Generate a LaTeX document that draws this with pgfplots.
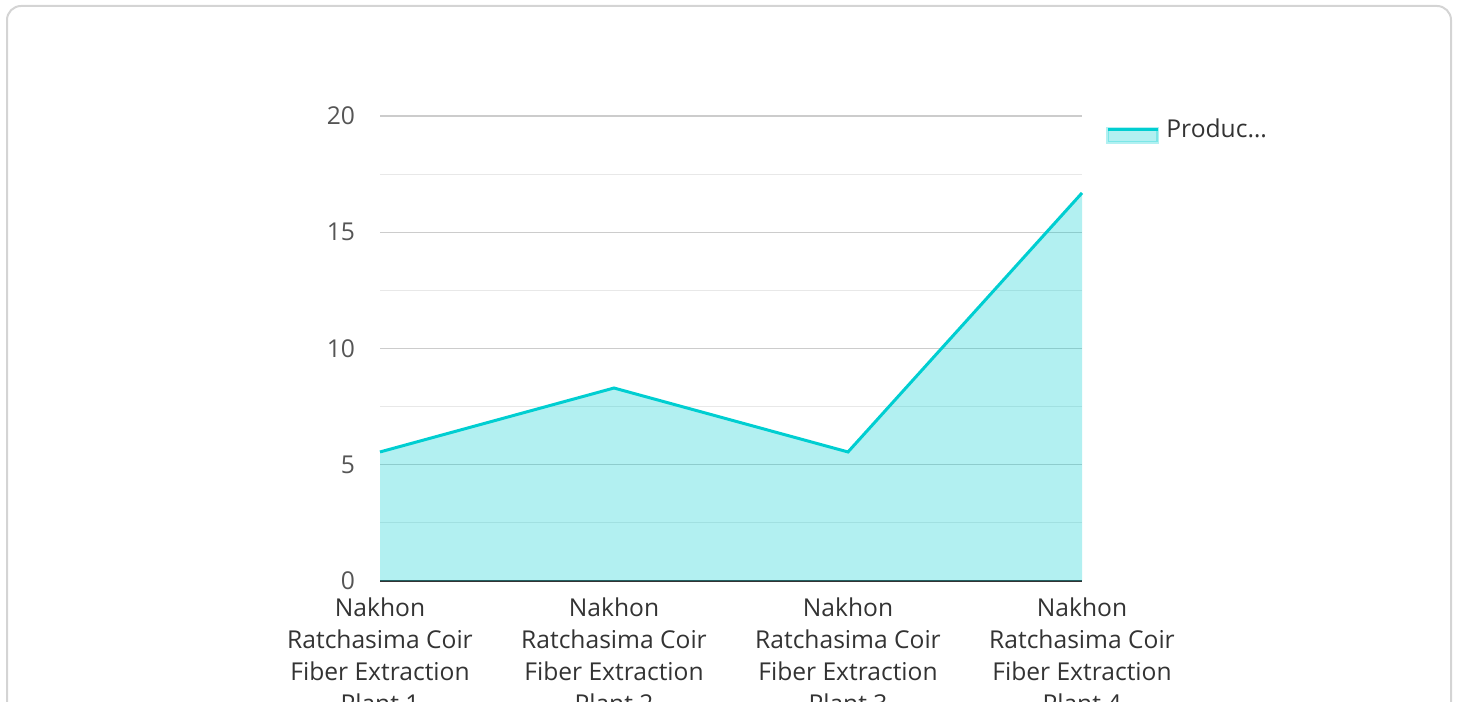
\documentclass[border=0pt]{standalone}
\usepackage{fontspec}
\setmainfont{Open Sans}
\usepackage{pgfplots}
\pgfplotsset{compat=1.18}

\definecolor{teal1}{RGB}{0,206,209}
\definecolor{gridmaj}{RGB}{204,204,204}
\definecolor{gridmin}{RGB}{232,232,232}
\definecolor{txt}{RGB}{51,51,51}
\definecolor{ytxt}{RGB}{85,85,85}
\definecolor{card}{RGB}{212,212,212}

\begin{document}
\begin{tikzpicture}
    % page is 1458x702 px at 0.5pt per px
    \useasboundingbox (0pt,0pt) rectangle (729pt,351pt);
    \clip (0pt,0pt) rectangle (729pt,351pt);
    \draw[card, line width=1pt, rounded corners=7pt] (3.5pt,-20pt) rectangle (725.5pt,348pt);
    \begin{axis}[
        at={(190pt,60.5pt)}, anchor=south west,
        scale only axis,
        width=351pt, height=232.5pt,
        xmin=0, xmax=3,
        ymin=0, ymax=20,
        xtick={0,1,2,3},
        xticklabels={
            {Nakhon\\Ratchasima Coir\\Fiber Extraction\\Plant 1},
            {Nakhon\\Ratchasima Coir\\Fiber Extraction\\Plant 2},
            {Nakhon\\Ratchasima Coir\\Fiber Extraction\\Plant 3},
            {Nakhon\\Ratchasima Coir\\Fiber Extraction\\Plant 4}},
        ytick={0,5,10,15,20},
        minor ytick={2.5,7.5,12.5,17.5},
        ymajorgrids, yminorgrids,
        major grid style={gridmaj, line width=0.6pt},
        minor grid style={gridmin, line width=0.6pt},
        major tick length=0pt, minor tick length=0pt,
        axis lines=left,
        axis line style={-},
        y axis line style={draw=none},
        x axis line style={draw=txt, line width=0.8pt},
        tick label style={font=\fontsize{12.3}{16}\selectfont},
        /pgf/number format/assume math mode=true,
        yticklabel style={xshift=-9pt, text=ytxt},
        xticklabel style={align=center, yshift=-5pt, text=txt},
        legend style={
            at={(1,1)}, anchor=north west, xshift=9pt, yshift=3pt,
            draw=none, fill=none,
            font=\fontsize{12.3}{16}\selectfont, text=txt,
            legend cell align=left},
        legend image code/.code={
            \fill[teal1, opacity=0.3] (0pt,-6.5pt) rectangle (25pt,0.5pt);
            \draw[teal1, line width=1.5pt] (0pt,0pt) -- (25pt,0pt);
        },
        clip=false,
    ]
        \addplot[draw=none, fill=teal1, fill opacity=0.3, forget plot]
            coordinates {(0,5.55) (1,8.3) (2,5.55) (3,16.69)} \closedcycle;
        \addplot[teal1, line width=1.5pt, mark=none]
            coordinates {(0,5.55) (1,8.3) (2,5.55) (3,16.69)};
        \addlegendentry{\hspace{1.5pt}Produc…}
    \end{axis}
\end{tikzpicture}
\end{document}
